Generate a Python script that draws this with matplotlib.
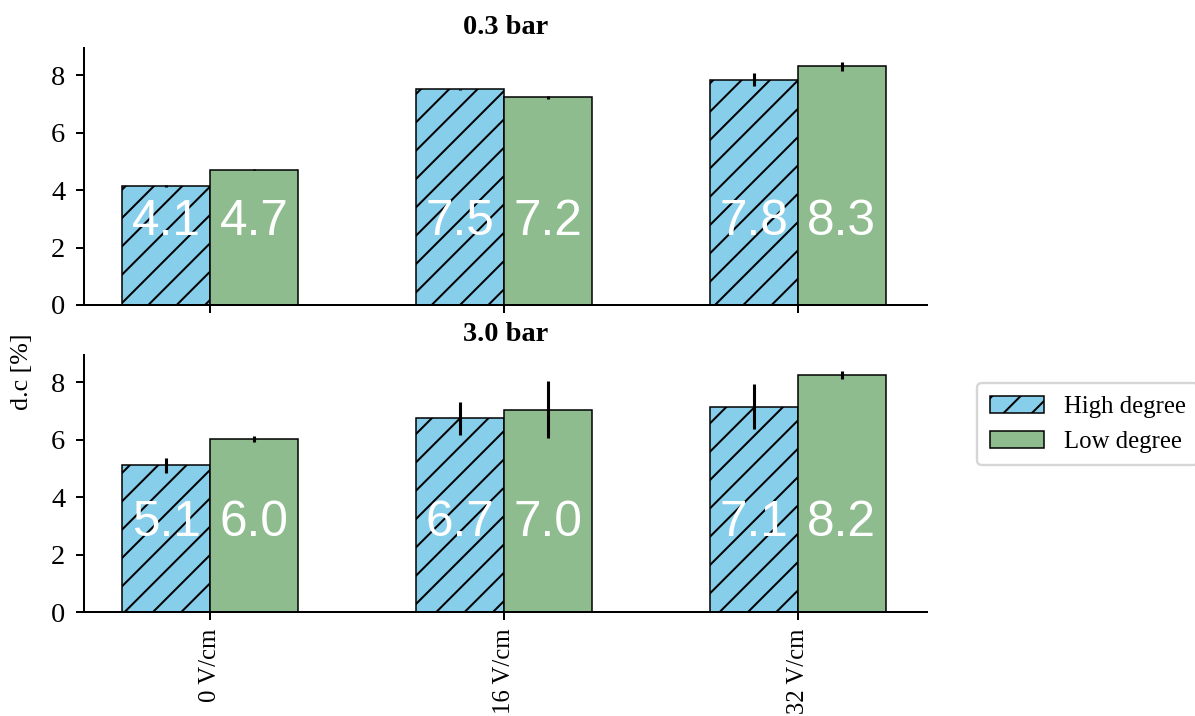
import numpy as np
import matplotlib
matplotlib.use('Agg')
import matplotlib.pyplot as plt

# fields and series
fields = ['0 V/cm', '16 V/cm', '32 V/cm']
pressures = ['0.3 bar', '3.0 bar']
series = ['High degree', 'Low degree']

high_03 = [4.14, 7.50, 7.84]
low_03 = [4.70, 7.22, 8.30]
high_03_err = [0.03, 0.03, 0.23]
low_03_err = [0.02, 0.04, 0.16]

high_30 = [5.10, 6.74, 7.14]
low_30 = [6.02, 7.04, 8.24]
high_30_err = [0.26, 0.58, 0.78]
low_30_err = [0.11, 0.99, 0.13]

DPI = 170
plt.rcParams['font.family'] = ['Liberation Serif', 'DejaVu Serif']
plt.rcParams['font.size'] = 12
plt.rcParams['hatch.linewidth'] = 0.85
plt.rcParams['axes.linewidth'] = 0.85

fig = plt.figure(figsize=(1195 / DPI, 716 / DPI), dpi=DPI)
W, H = 1195, 716
left, right = 84 / W, 927 / W
ax_top = fig.add_axes([left, (H - 305) / H, right - left, 257 / H])
ax_bot = fig.add_axes([left, (H - 612) / H, right - left, 257 / H])

x = np.arange(len(fields))
width = 0.3
blue = '#87CEEB'
green = '#8FBC8F'

panels = [
    (ax_top, high_03, low_03, high_03_err, low_03_err, pressures[0], 2.9),
    (ax_bot, high_30, low_30, high_30_err, low_30_err, pressures[1], 3.1),
]

for ax, hi, lo, hi_e, lo_e, title, ytxt in panels:
    ekw = dict(elinewidth=1.3, capsize=0, ecolor='black')
    ax.bar(x - width / 2, hi, width, yerr=hi_e, color=blue, edgecolor='black',
           linewidth=0.65, hatch='//', label=series[0], error_kw=ekw)
    ax.bar(x + width / 2, lo, width, yerr=lo_e, color=green, edgecolor='black',
           linewidth=0.65, label=series[1], error_kw=ekw)
    for xi, v in zip(x - width / 2, hi):
        ax.text(xi, ytxt, f'{v:.1f}', color='white', fontsize=21, ha='center', va='center',
                family=['Liberation Sans', 'DejaVu Sans'])
    for xi, v in zip(x + width / 2, lo):
        ax.text(xi, ytxt, f'{v:.1f}', color='white', fontsize=21, ha='center', va='center',
                family=['Liberation Sans', 'DejaVu Sans'])
    ax.set_title(title, fontweight='bold', fontsize=12, pad=6)
    ax.set_ylim(0, 8.94)
    ax.set_xlim(-0.43, 2.44)
    ax.set_yticks([0, 2, 4, 6, 8])
    ax.set_xticks(x)
    ax.spines['top'].set_visible(False)
    ax.spines['right'].set_visible(False)
    ax.tick_params(direction='out', length=3.4, width=0.85, labelsize=12, pad=4.5)

ax_top.tick_params(labelbottom=False)
ax_bot.set_xticklabels(fields, rotation=90)
ax_bot.tick_params(axis='x', labelsize=10.5, pad=3.5)

fig.text(22 / W, 1 - 372 / H, 'd.c [%]', rotation=90, ha='center', va='center', fontsize=11)

ax_bot.legend(loc='center left', bbox_to_anchor=(1.045, 0.73), handlelength=2.2,
              handletextpad=0.8, fontsize=10.5, borderpad=0.5)

fig.savefig('out.png', dpi=DPI)
